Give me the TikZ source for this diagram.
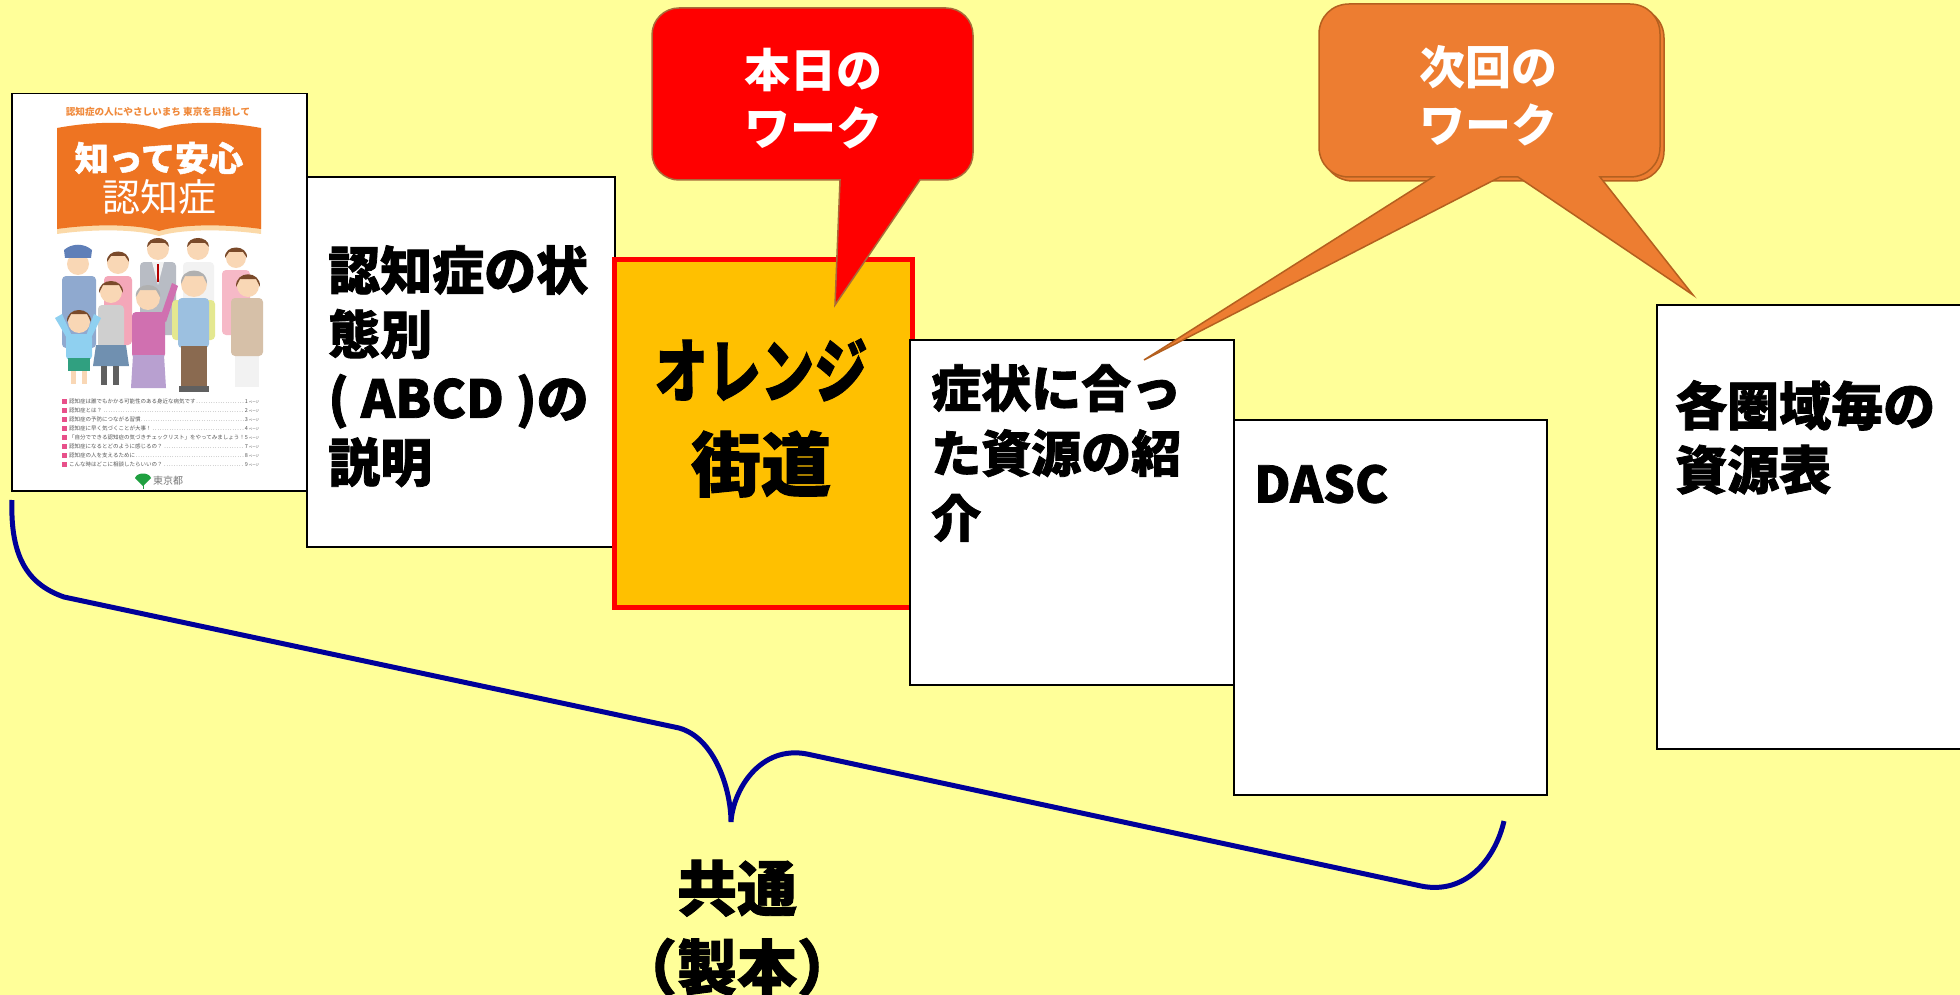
\documentclass[tikz,border=0pt]{standalone}
\usepackage{fontspec}
\setmainfont{Noto Sans CJK JP}
\newfontfamily\heavyjp[BoldFeatures={FakeBold=1.5}]{Noto Sans CJK JP}
\definecolor{bg}{HTML}{FFFF99}
\definecolor{amber}{HTML}{FFC000}
\definecolor{callred}{HTML}{FF0000}
\definecolor{callredline}{HTML}{A86A3A}
\definecolor{callorange}{HTML}{ED7D31}
\definecolor{callorangeline}{HTML}{B4601F}
\definecolor{bracenavy}{HTML}{000099}
\definecolor{coverorange}{HTML}{EE7422}
\definecolor{covercream}{HTML}{FBD9A8}
\definecolor{tagorange}{HTML}{F08A3C}
\definecolor{listgrey}{HTML}{555555}
\definecolor{bulletpink}{HTML}{E8508A}
\definecolor{skin}{HTML}{F9D7B5}
\definecolor{hairbrown}{HTML}{7A4A2A}
\definecolor{hairgrey}{HTML}{B0B0B0}
\definecolor{uniform}{HTML}{8FA9CF}
\definecolor{capblue}{HTML}{5F7FB8}
\definecolor{pinktop}{HTML}{F4A7B9}
\definecolor{suitgrey}{HTML}{B8BCC4}
\definecolor{shirtwhite}{HTML}{F2F2F2}
\definecolor{sweater}{HTML}{CFCFCF}
\definecolor{skirtblue}{HTML}{7090B0}
\definecolor{cardigan}{HTML}{D070B0}
\definecolor{lavender}{HTML}{B8A0D0}
\definecolor{vestblue}{HTML}{9CC0E0}
\definecolor{sleeve}{HTML}{E4E890}
\definecolor{pantsbrown}{HTML}{8A6A50}
\definecolor{apron}{HTML}{D6C0A8}
\definecolor{boyblue}{HTML}{8FD0F0}
\definecolor{shorts}{HTML}{30A080}
\definecolor{shoe}{HTML}{606060}
\definecolor{leafgreen}{HTML}{1FA040}

\begin{document}
\begin{tikzpicture}[x=1pt,y=-1pt,
  panel/.style={draw=black, line width=2pt, fill=white, inner sep=0pt, anchor=north west},
  boxtext/.style={font=\heavyjp\bfseries\fontsize{52}{64}\selectfont, align=left, inner sep=0pt, anchor=north west},
  calltext/.style={text=white, font=\bfseries\fontsize{46}{58}\selectfont, align=center, inner sep=0pt},
  listtext/.style={font=\fontsize{5.5}{6}\selectfont, text=listgrey, inner sep=0pt, anchor=west},
  figure/.style={rounded corners=4pt},
]
% background
\fill[bg] (0,0) rectangle (1960,995);
\useasboundingbox (0,0) rectangle (1960,995);

% ---------- booklet cover ----------
\node[panel, line width=1.5pt, minimum width=295pt, minimum height=397pt] (cover) at (11,93) {};
\node[text=tagorange, font=\bfseries\fontsize{9.6}{10}\selectfont, inner sep=0pt] (tagline) at (158,112) {認知症の人にやさしいまち 東京を目指して};
% open-book banner
\fill[covercream] (57,130) .. controls (100,122) and (140,124) .. (159,131)
  .. controls (178,124) and (218,122) .. (261,130) -- (261,234)
  .. controls (218,228) and (178,230) .. (159,236)
  .. controls (140,230) and (100,228) .. (57,234) -- cycle;
\fill[coverorange] (57,128) .. controls (100,120) and (140,122) .. (159,129)
  .. controls (178,122) and (218,120) .. (261,128) -- (261,229)
  .. controls (218,223) and (178,225) .. (159,231)
  .. controls (140,225) and (100,223) .. (57,229) -- cycle;
\node[text=white, font=\heavyjp\bfseries\fontsize{34}{36}\selectfont, inner sep=0pt] (covertitle) at (159,158) {知って安心};
\node[text=white, font=\fontsize{38}{40}\selectfont, inner sep=0pt] (coversub) at (159,197) {認知症};

% people, back row
\fill[uniform, figure] (62,276) rectangle (96,348);
\fill[shoe] (66,348) rectangle (92,356);
\fill[skin] (78,264) circle (11pt);
\fill[capblue] (65,258) -- (91,258) -- (92,250) .. controls (84,243) and (72,243) .. (64,250) -- cycle;
\fill[pinktop, figure] (104,276) rectangle (132,345);
\fill[skin] (118,263) circle (11pt);
\fill[hairbrown] (107,262) .. controls (106,248) and (130,248) .. (129,262) -- (125,256) -- (111,256) -- cycle;
\fill[suitgrey, figure] (140,262) rectangle (176,335);
\fill[shirtwhite] (152,262) -- (164,262) -- (158,285) -- cycle;
\fill[red!70!black] (157,264) rectangle (159,282);
\fill[skin] (158,249) circle (11pt);
\fill[hairbrown] (147,247) .. controls (147,235) and (169,235) .. (169,247) -- (165,243) -- (151,243) -- cycle;
\fill[shirtwhite, figure] (183,262) rectangle (214,325);
\fill[skin] (198,249) circle (11pt);
\fill[hairbrown] (187,247) .. controls (187,235) and (209,235) .. (209,247) -- (205,243) -- (191,243) -- cycle;
\fill[pinktop!80!white, figure] (222,270) rectangle (250,335);
\fill[skin] (236,258) circle (10pt);
\fill[hairbrown] (225,258) .. controls (224,244) and (248,244) .. (247,258) -- (243,252) -- (229,252) -- cycle;
% people, front row
\fill[sweater, figure] (98,305) rectangle (124,348);
\fill[skirtblue] (96,345) -- (126,345) -- (129,366) -- (93,366) -- cycle;
\fill[shoe] (101,366) rectangle (107,385);
\fill[shoe] (113,366) rectangle (119,385);
\fill[skin] (111,292) circle (11pt);
\fill[hairbrown] (99,293) .. controls (98,277) and (124,277) .. (123,293) -- (119,285) -- (103,285) -- cycle;
\fill[cardigan, figure] (132,312) rectangle (165,358);
\fill[cardigan] (160,318) -- (172,283) -- (178,286) -- (166,322) -- cycle;
\fill[lavender] (133,355) -- (164,355) -- (166,388) -- (131,388) -- cycle;
\fill[skin] (148,298) circle (12pt);
\fill[hairgrey] (136,297) .. controls (134,281) and (162,281) .. (160,297) -- (156,290) -- (140,290) -- cycle;
\fill[sleeve, figure] (172,300) rectangle (215,340);
\fill[vestblue, figure] (178,298) rectangle (209,348);
\fill[pantsbrown] (181,346) rectangle (207,388);
\fill[shoe] (179,386) rectangle (209,392);
\fill[skin] (194,284) circle (13pt);
\fill[hairgrey] (181,284) .. controls (180,266) and (208,266) .. (207,284) -- (203,276) -- (185,276) -- cycle;
\fill[shirtwhite] (235,350) rectangle (259,387);
\fill[apron, figure] (231,298) rectangle (263,356);
\fill[skin] (248,286) circle (11pt);
\fill[hairbrown] (236,287) .. controls (235,270) and (261,270) .. (260,287) -- (256,279) -- (240,279) -- cycle;
\fill[boyblue] (55,318) -- (62,314) -- (72,336) -- (68,340) -- cycle;
\fill[boyblue] (101,318) -- (94,314) -- (86,336) -- (90,340) -- cycle;
\fill[boyblue, figure] (66,334) rectangle (92,360);
\fill[shorts] (68,358) rectangle (90,371);
\fill[skin] (71,371) rectangle (76,384);
\fill[skin] (82,371) rectangle (87,384);
\fill[skin] (79,322) circle (11pt);
\fill[hairbrown] (67,322) .. controls (66,306) and (92,306) .. (91,322) -- (87,314) -- (71,314) -- cycle;

% contents list
\foreach \txt/\pg [count=\i from 0] in {%
  認知症は誰でもかかる可能性のある身近な病気です/1,
  認知症とは？/2,
  認知症の予防につながる習慣/3,
  認知症に早く気づくことが大事！/4,
  「自分でできる認知症の気づきチェックリスト」をやってみましょう！/5,
  認知症になるとどのように感じるの？/7,
  認知症の人を支えるために/8,
  こんな時はどこに相談したらいいの？/9}
{
  \fill[bulletpink] (62,{399+9*\i}) rectangle (67,{404+9*\i});
  \node[listtext] (item\i) at (69,{401.5+9*\i})
    {\hbox to 190pt{\txt\dotfill\pg\,{\fontsize{3.5}{4}\selectfont ページ}}};
}
\fill[leafgreen] (143,486) -- (135,478) .. controls (137,472) and (149,472) .. (151,478) -- cycle;
\draw[leafgreen, line width=1pt] (143,480) -- (143,489);
\node[text=listgrey!80, font=\fontsize{10}{10}\selectfont, inner sep=0pt, anchor=west] (tokyo) at (153,481) {東京都};

% ---------- step panels ----------
\node[panel, minimum width=308pt, minimum height=370pt] (b1) at (306,176) {};
\node[panel, draw=callred, fill=amber, line width=4.5pt, minimum width=298pt, minimum height=348pt] (b2) at (612,257) {};
\node[panel, minimum width=324pt, minimum height=345pt] (b3) at (909,339) {};
\node[panel, minimum width=313pt, minimum height=375pt] (b4) at (1233,419) {};
\node[panel, minimum width=320pt, minimum height=444pt] (b5) at (1656,304) {};

\node[boxtext] (t1) at (328,245) {認知症の状\\態別\\( ABCD )の\\説明};
\node[font=\heavyjp\bfseries\fontsize{70}{94}\selectfont, align=center, inner sep=0pt] (t2) at (761,418)
  {\scalebox{0.76}[1]{オレンジ}\\街道};
\node[boxtext, font=\heavyjp\bfseries\fontsize{50}{65}\selectfont] (t3) at (931,364) {症状に合っ\\た資源の紹\\介};
\node[font=\heavyjp\bfseries\fontsize{50}{60}\selectfont, inner sep=0pt, anchor=west] (t4) at (1254,484) {DASC};
\node[boxtext] (t5) at (1675,380) {各圏域毎の\\資源表};

% ---------- callouts ----------
\draw[fill=callred, draw=callredline, line width=1.5pt]
  (679,8) -- (946,8) .. controls (961,8) and (973,20) .. (973,35)
  -- (973,153) .. controls (973,168) and (961,180) .. (946,180)
  -- (920,180) -- (835,305) -- (840,180)
  -- (679,180) .. controls (664,180) and (652,168) .. (652,153)
  -- (652,35) .. controls (652,20) and (664,8) .. (679,8) -- cycle;
\node[calltext] (today) at (813,99) {本日の\\ワーク};

\draw[fill=callorange, draw=callorangeline, line width=1.5pt]
  (1353,8) -- (1634,8) .. controls (1651,8) and (1664,21) .. (1664,38)
  -- (1664,151) .. controls (1664,168) and (1651,181) .. (1634,181)
  -- (1353,181) .. controls (1336,181) and (1323,168) .. (1323,151)
  -- (1323,38) .. controls (1323,21) and (1336,8) .. (1353,8) -- cycle;
\draw[fill=callorange, draw=callorangeline, line width=1.5pt]
  (1349,4) -- (1630,4) .. controls (1647,4) and (1660,17) .. (1660,34)
  -- (1660,147) .. controls (1660,164) and (1647,177) .. (1630,177)
  -- (1600,177) -- (1693,295) -- (1518,177)
  -- (1500,177) -- (1144,360) -- (1433,177)
  -- (1349,177) .. controls (1332,177) and (1319,164) .. (1319,147)
  -- (1319,34) .. controls (1319,17) and (1332,4) .. (1349,4) -- cycle;
\node[calltext] (next) at (1488,96) {次回の\\ワーク};

% ---------- brace ----------
\coordinate (braceL) at (12,500);
\coordinate (braceTip) at (731,822);
\coordinate (braceR) at (1504,821);
\draw[bracenavy, line width=5pt]
  (braceL) .. controls (10,560) and (30,585) .. (64,597)
  -- (679,728) .. controls (715,738) and (731,790) .. (braceTip)
  .. controls (733,790) and (760,745) .. (807,754)
  -- (1421,886) .. controls (1465,895) and (1495,860) .. (braceR);
\node[font=\heavyjp\bfseries\fontsize{60}{79}\selectfont, align=center, inner sep=0pt] (common) at (737,928) {共通\\（製本）};
\end{tikzpicture}
\end{document}
